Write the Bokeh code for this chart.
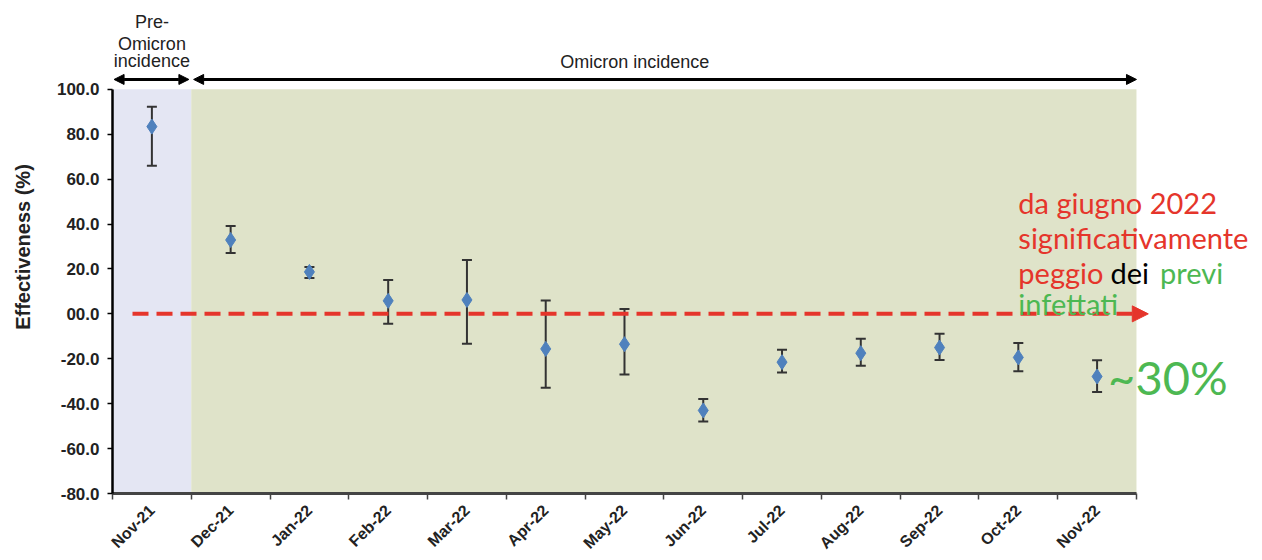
import math
from bokeh.plotting import figure
from bokeh.models import (ColumnDataSource, Range1d, FixedTicker, NumeralTickFormatter,
                          BoxAnnotation, Whisker, TeeHead, Arrow, NormalHead, Label)
from bokeh.embed import file_html
from bokeh.resources import INLINE

# ---- data ----
months = ["Nov-21", "Dec-21", "Jan-22", "Feb-22", "Mar-22", "Apr-22", "May-22",
          "Jun-22", "Jul-22", "Aug-22", "Sep-22", "Oct-22", "Nov-22"]
effectiveness = [83.4, 32.9, 18.7, 5.8, 6.2, -15.6, -13.5, -43.0, -21.5, -17.5, -15.0, -19.4, -27.9]
ci_upper = [92.2, 39.1, 20.9, 15.1, 24.0, 5.9, 2.2, -37.9, -16.0, -11.1, -8.9, -13.0, -20.7]
ci_lower = [66.0, 27.1, 16.0, -4.4, -13.3, -32.9, -27.0, -47.9, -26.1, -23.1, -20.6, -25.6, -34.8]
y_ticks = [-80, -60, -40, -20, 0, 20, 40, 60, 80, 100]
y_min, y_max = -80, 100

n = len(months)
x_pos = [i + 0.5 for i in range(n)]
src = ColumnDataSource(dict(x=x_pos, y=effectiveness, lo=ci_lower, hi=ci_upper, m=months))

# the frame is extended beyond the axes so that the notes above and to the right are not clipped
p = figure(width=1262, height=560, output_backend="svg", toolbar_location=None,
           x_range=Range1d(0, 14.6), y_range=Range1d(y_min, 139.56),
           min_border_left=112, min_border_right=0, min_border_top=0, min_border_bottom=66)
p.outline_line_color = None
p.xgrid.visible = False
p.ygrid.visible = False
p.background_fill_color = "white"
p.border_fill_color = "white"

# background bands
p.add_layout(BoxAnnotation(left=0, right=1, bottom=y_min, top=y_max, fill_color="#E4E6F3",
                           fill_alpha=1, line_color=None, level="underlay"))
p.add_layout(BoxAnnotation(left=1, right=n, bottom=y_min, top=y_max, fill_color="#DFE3C9",
                           fill_alpha=1, line_color=None, level="underlay"))

# error bars
w = Whisker(source=src, base="x", upper="hi", lower="lo", dimension="height",
            line_color="#333333", line_width=2,
            upper_head=TeeHead(size=10, line_color="#333333", line_width=2),
            lower_head=TeeHead(size=10, line_color="#333333", line_width=2))
p.add_layout(w)
p.scatter("x", "y", source=src, marker="diamond", size=15, fill_color="#4F81BD", line_color="#4F81BD")

# axes
TF = "Liberation Sans"
p.yaxis.bounds = (y_min, y_max)
p.yaxis.ticker = FixedTicker(ticks=y_ticks)
p.yaxis.formatter = NumeralTickFormatter(format="0.0")
p.yaxis.major_label_overrides = {0: "00.0"}
p.yaxis.axis_label = "Effectiveness (%)"
p.yaxis.axis_label_text_font = TF
p.yaxis.axis_label_text_font_style = "bold"
p.yaxis.axis_label_text_font_size = "20px"
p.yaxis.axis_label_text_color = "#222222"
p.yaxis.axis_label_standoff = 20
p.yaxis.major_label_text_font = TF
p.yaxis.major_label_text_font_style = "bold"
p.yaxis.major_label_text_font_size = "17px"
p.yaxis.major_label_text_color = "#222222"
p.yaxis.major_label_standoff = 8
p.yaxis.axis_line_color = "black"
p.yaxis.axis_line_width = 2.5
p.yaxis.major_tick_line_color = "black"
p.yaxis.major_tick_line_width = 1.5
p.yaxis.major_tick_out = 5
p.yaxis.major_tick_in = 0
p.yaxis.minor_tick_line_color = None

p.xaxis.bounds = (0, n)
p.xaxis.ticker = FixedTicker(ticks=x_pos, minor_ticks=list(range(n + 1)))
p.xaxis.major_label_overrides = {x: m for x, m in zip(x_pos, months)}
p.xaxis.major_label_orientation = math.pi / 4
p.xaxis.major_label_text_font = TF
p.xaxis.major_label_text_font_style = "bold"
p.xaxis.major_label_text_font_size = "16px"
p.xaxis.major_label_text_color = "#222222"
p.xaxis.major_label_standoff = 8
p.xaxis.major_tick_line_color = None
p.xaxis.minor_tick_line_color = "#444444"
p.xaxis.minor_tick_line_width = 1.5
p.xaxis.minor_tick_out = 6
p.xaxis.minor_tick_in = 0
p.xaxis.axis_line_color = "#444444"
p.xaxis.axis_line_width = 3

# top period arrows and labels
def dbl_arrow(x0, x1, y):
    p.add_layout(Arrow(x_start=x0, x_end=x1, y_start=y, y_end=y, line_width=3, line_color="black",
                       start=NormalHead(size=10, fill_color="black", line_color="black"),
                       end=NormalHead(size=10, fill_color="black", line_color="black")))

dbl_arrow(0.02, 0.97, 104.4)
dbl_arrow(1.03, 13.0, 104.4)

for txt, yy in [("Pre-", 130.2), ("Omicron", 120.4), ("incidence", 112.4)]:
    p.add_layout(Label(x=0.5, y=yy, text=txt, text_align="center", text_baseline="alphabetic",
                       text_font=TF, text_font_size="18px", text_color="#222222"))
p.add_layout(Label(x=6.63, y=112.0, text="Omicron incidence", text_align="center", text_baseline="alphabetic",
                   text_font=TF, text_font_size="18px", text_color="#222222"))

# red dashed reference arrow at 0
RED = "#E5352B"
GREEN = "#4DB852"
p.add_layout(Arrow(x_start=0.254, x_end=13.15, y_start=0, y_end=0, line_width=4, line_color=RED,
                   line_dash="16 8",
                   end=NormalHead(size=16, fill_color=RED, line_color=RED, line_dash="solid")))

AF = "Lato"
def note(x, y, t, c, size="29px"):
    p.add_layout(Label(x=x, y=y, text=t, text_color=c, text_font=AF, text_font_size=size,
                       text_align="left", text_baseline="alphabetic"))

note(11.50, 49.8, "da giugno 2022", RED)
note(11.50, 34.2, "significativamente", RED)
note(11.50, 18.6, "peggio", RED)
note(12.67, 18.6, "dei", "black")
note(13.30, 18.6, "previ", GREEN)
note(11.50, 4.4, "infettati", GREEN)
note(12.64, -28.0, "~30%", GREEN, size="47px")

open("out.html", "w").write(file_html(p, INLINE))
